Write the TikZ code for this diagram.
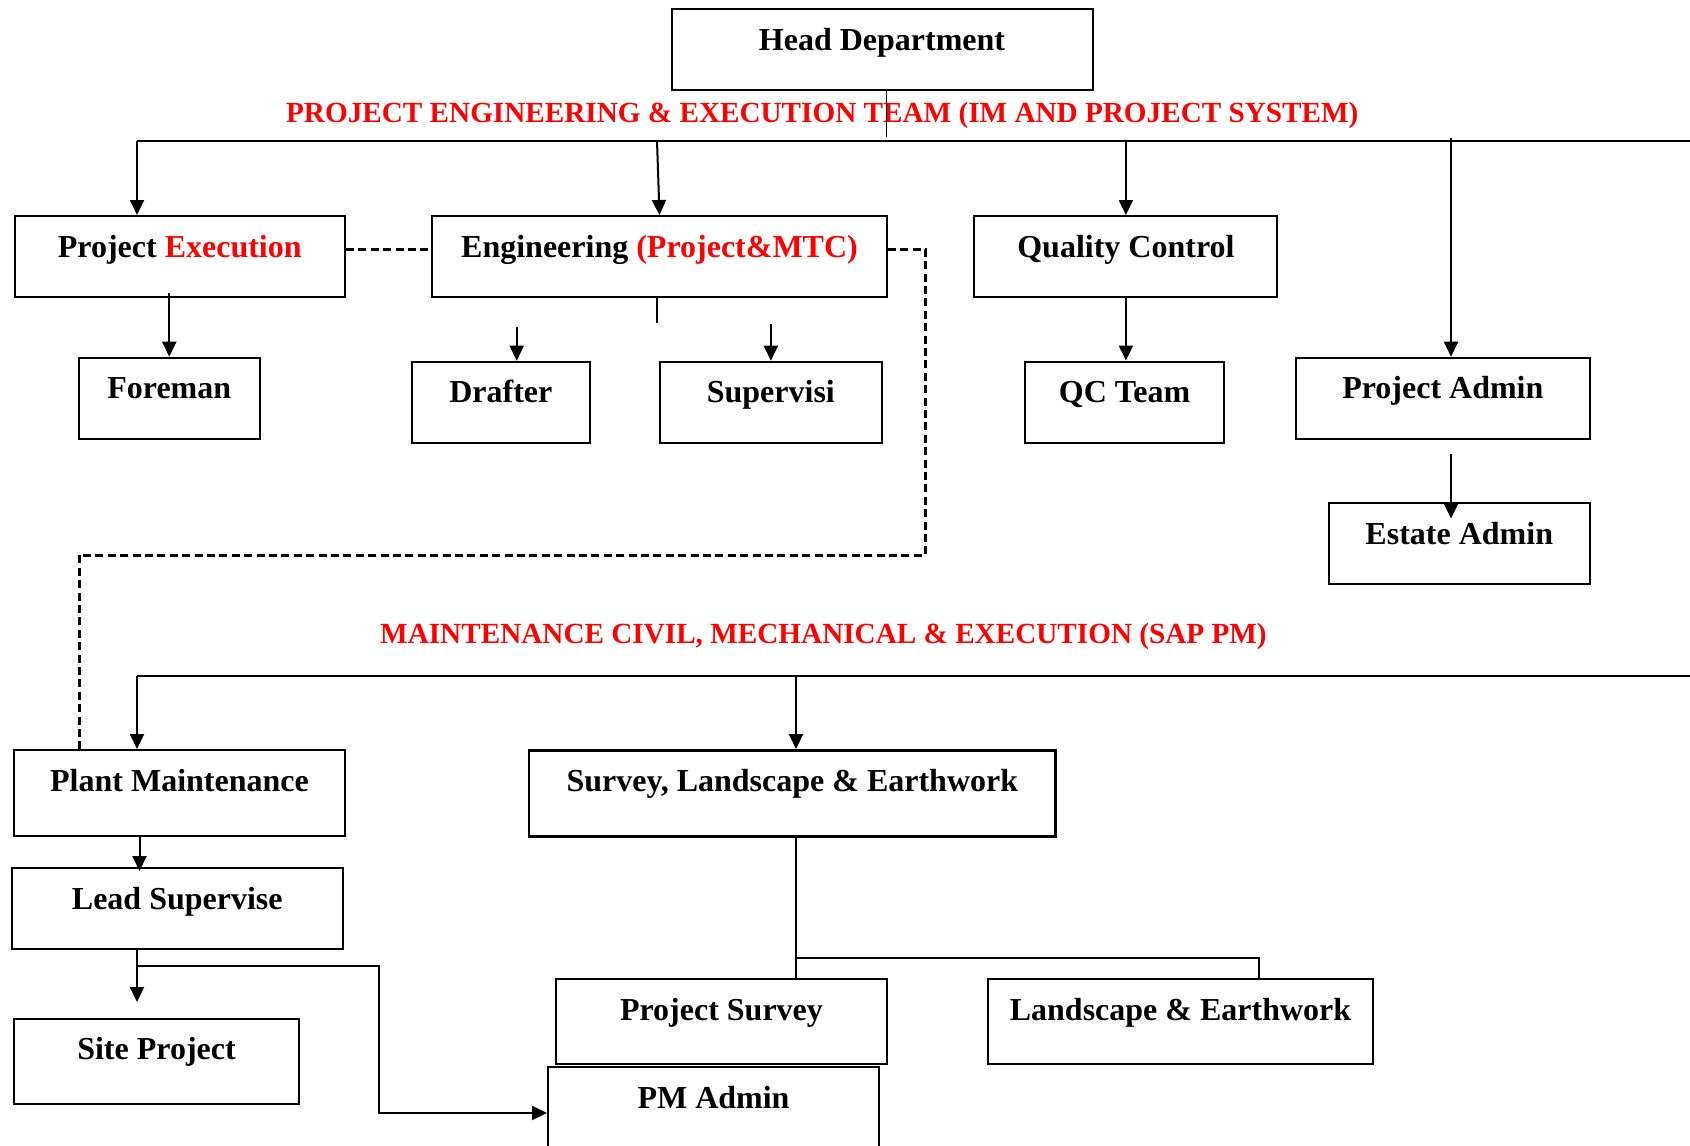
\documentclass[tikz,border=0pt]{standalone}
\usepackage{fontspec}
\setmainfont{Liberation Serif}
\usetikzlibrary{arrows.meta}
\newcommand{\boxfont}{\fontsize{16pt}{19pt}\selectfont\bfseries}
\newcommand{\ttlfont}{\fontsize{14.6pt}{17pt}\selectfont\bfseries}
\tikzset{
  box/.style={draw, line width=1pt, inner sep=0pt, anchor=north, text height=20.5pt, text depth=#1, font=\boxfont},
  box/.default=20pt,
  ttl/.style={text=red, font=\ttlfont, inner sep=0pt, anchor=base},
  conn/.style={line width=1pt},
  thinconn/.style={line width=0.6pt},
  arr/.style={line width=1pt, -{Triangle[length=7.5pt,width=7pt]}},
  dsh/.style={line width=1.5pt, dash pattern=on 4pt off 2.2pt}
}
\begin{document}
\begin{tikzpicture}[x=0.5pt,y=-0.5pt]
\useasboundingbox (0,0) rectangle (1690,1145);
\clip (0,0) rectangle (1690,1145);
\fill[white] (0,0) rectangle (1690,1145);

% boxes
\node[box, minimum width=210.5pt] (head) at (882,8.5) {Head Department};
\node[box, minimum width=165.25pt] (pe) at (179.75,215) {Project \textcolor{red}{Execution}};
\node[box, minimum width=227.5pt] (eng) at (659.5,215) {Engineering \textcolor{red}{(Project\&MTC)}};
\node[box, minimum width=151.5pt] (qc) at (1125.9,215) {Quality Control};
\node[box, minimum width=90.25pt] (foreman) at (169.25,356.7) {Foreman};
\node[box, minimum width=89.2pt] (drafter) at (500.8,360.7) {Drafter};
\node[box, minimum width=110.85pt] (supervisi) at (770.85,360.7) {Supervisi};
\node[box, minimum width=99.5pt] (qcteam) at (1124.5,360.5) {QC Team};
\node[box, minimum width=146.85pt] (padmin) at (1442.85,356.7) {Project Admin};
\node[box, minimum width=130.45pt] (estate) at (1459.25,502) {Estate Admin};
\node[box=22.5pt, minimum width=165.5pt] (plant) at (179.5,749) {Plant Maintenance};
\node[box=22.5pt, minimum width=263.35pt, line width=1.4pt] (survey) at (792.35,749) {Survey, Landscape \& Earthwork};
\node[box, minimum width=165.75pt] (lead) at (177.25,867) {Lead Supervise};
\node[box=22pt, minimum width=142.5pt] (site) at (156.5,1017.5) {Site Project};
\node[box=22pt, minimum width=165.5pt] (psurvey) at (721.5,978) {Project Survey};
\node[box=22pt, minimum width=192.5pt] (landscape) at (1180.5,978) {Landscape \& Earthwork};
\node[box=25.5pt, minimum width=165.5pt] (pmadmin) at (713.5,1066) {PM Admin};

% titles
\node[ttl] (t1) at (822.3,122.5) {PROJECT ENGINEERING \& EXECUTION TEAM (IM AND PROJECT SYSTEM)};
\node[ttl] (t2) at (823.5,643) {MAINTENANCE CIVIL, MECHANICAL \& EXECUTION (SAP PM)};

% top bus
\coordinate (h1) at (886.5,137);
\coordinate (b1L) at (137,141);
\coordinate (b1R) at (1690,141);
\coordinate (b1e) at (657,141);
\coordinate (pa1) at (1451,138);
\draw[thinconn] (head.south -| h1) -- (h1);
\draw[conn] (b1L) -- (b1R);
\draw[arr] (b1L) -- (b1L |- pe.north);
\draw[arr] (b1e) -- (eng.north);
\draw[arr] (qc.north |- b1L) -- (qc.north);
\draw[arr] (pa1) -- (pa1 |- padmin.north);

% second level
\coordinate (pe1) at (169.25,292.7);
\draw[arr] (pe1) -- (foreman.north);
\coordinate (es) at (657,322.7);
\draw[thinconn] (es |- eng.south) -- (es);
\coordinate (d1) at (516.7,327);
\draw[arr] (d1) -- (d1 |- drafter.north);
\coordinate (s1) at (770.85,324);
\draw[arr] (s1) -- (supervisi.north);
\draw[arr] (qc.south) -- (qc.south |- qcteam.north);
\coordinate (e1) at (1451,453.5);
\coordinate (e2) at (1451,518.6);
\draw[arr] (e1) -- (e2);

% dashed links
\draw[dsh] ([yshift=3.75pt]pe.east) -- ([yshift=3.75pt]eng.west);
\coordinate (dd1) at (925.5,555);
\coordinate (dd2) at (79,555);
\draw[dsh] ([yshift=3.75pt]eng.east) -| (dd1) -- (dd2) -- (dd2 |- plant.north);

% bottom bus
\coordinate (b2L) at (137,675.5);
\coordinate (b2R) at (1690,675.5);
\coordinate (b2s) at (796,675.5);
\draw[conn] (b2L) -- (b2R);
\draw[arr] (b2L) -- (b2L |- plant.north);
\draw[arr] (b2s) -- (b2s |- survey.north);

% plant branch
\coordinate (pl1) at (139.5,871);
\draw[arr] (pl1 |- plant.south) -- (pl1);
\coordinate (ls) at (137,1002);
\draw[arr] (ls |- lead.south) -- (ls);
\coordinate (lp1) at (379,966);
\draw[arr] (ls |- lead.south) |- (lp1) |- (pmadmin.west);

% survey branch
\coordinate (sv) at (796,957.7);
\coordinate (sv2) at (1258.7,957.7);
\draw[thinconn] (sv |- survey.south) -- (sv |- psurvey.north);
\draw[conn] (sv) -- (sv2) -- (sv2 |- landscape.north);
\end{tikzpicture}
\end{document}
